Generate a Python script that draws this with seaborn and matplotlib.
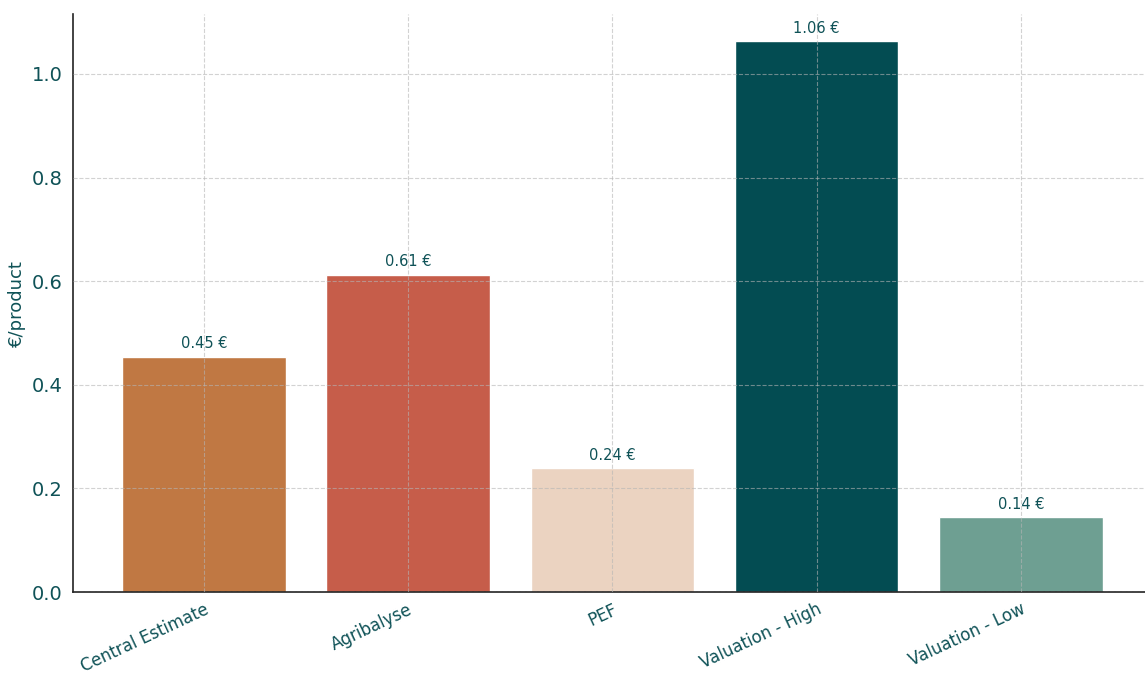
import numpy as np
import pandas as pd
import matplotlib
matplotlib.use("Agg")
import matplotlib.pyplot as plt
import seaborn as sns

# Chart data
categories = ["Central Estimate", "Agribalyse", "PEF", "Valuation - High", "Valuation - Low"]
values = [0.454, 0.612, 0.239, 1.063, 0.144]
bar_colors = ["#C07843", "#C65D4A", "#EBD3C1", "#034C52", "#6E9F92"]

TEXT_COLOR = "#0F5257"

sns.set_style("white")
plt.rcParams["font.family"] = ["DejaVu Sans"]

df = pd.DataFrame({"method": categories, "cost": values})

fig = plt.figure(figsize=(11.45, 6.78), dpi=100)
ax = fig.add_axes([0.0638, 0.1268, 0.942, 0.852])

sns.barplot(data=df, x="method", y="cost", hue="method", palette=bar_colors,
            width=0.8, saturation=1, legend=False, ax=ax)

for i, v in enumerate(values):
    ax.annotate(f"{v:.2f} €", (i, v), xytext=(0, 4), textcoords="offset points",
                ha="center", va="bottom", fontsize=10.5, color=TEXT_COLOR)

ax.set_xlim(-0.64, 4.64)
ax.set_ylim(0, 1.115)
ax.set_yticks([0.0, 0.2, 0.4, 0.6, 0.8, 1.0])
ax.set_xlabel("")
ax.set_ylabel("€/product", fontsize=13, color=TEXT_COLOR)

ax.tick_params(axis="y", labelsize=14, colors=TEXT_COLOR, length=4, width=1)
ax.tick_params(axis="x", labelsize=12, colors=TEXT_COLOR, length=4, width=1, pad=2)
ax.tick_params(axis="both", color="black")
plt.setp(ax.get_xticklabels(), rotation=25, ha="right", rotation_mode="anchor")

ax.grid(True, linestyle="--", color="#b5b5b5", linewidth=0.8, alpha=0.6)
ax.set_axisbelow(False)
for side in ["top", "right"]:
    ax.spines[side].set_visible(False)
for side in ["left", "bottom"]:
    ax.spines[side].set_color("#222222")
    ax.spines[side].set_linewidth(1.2)

plt.savefig("out.png", dpi=100)
plt.close()
